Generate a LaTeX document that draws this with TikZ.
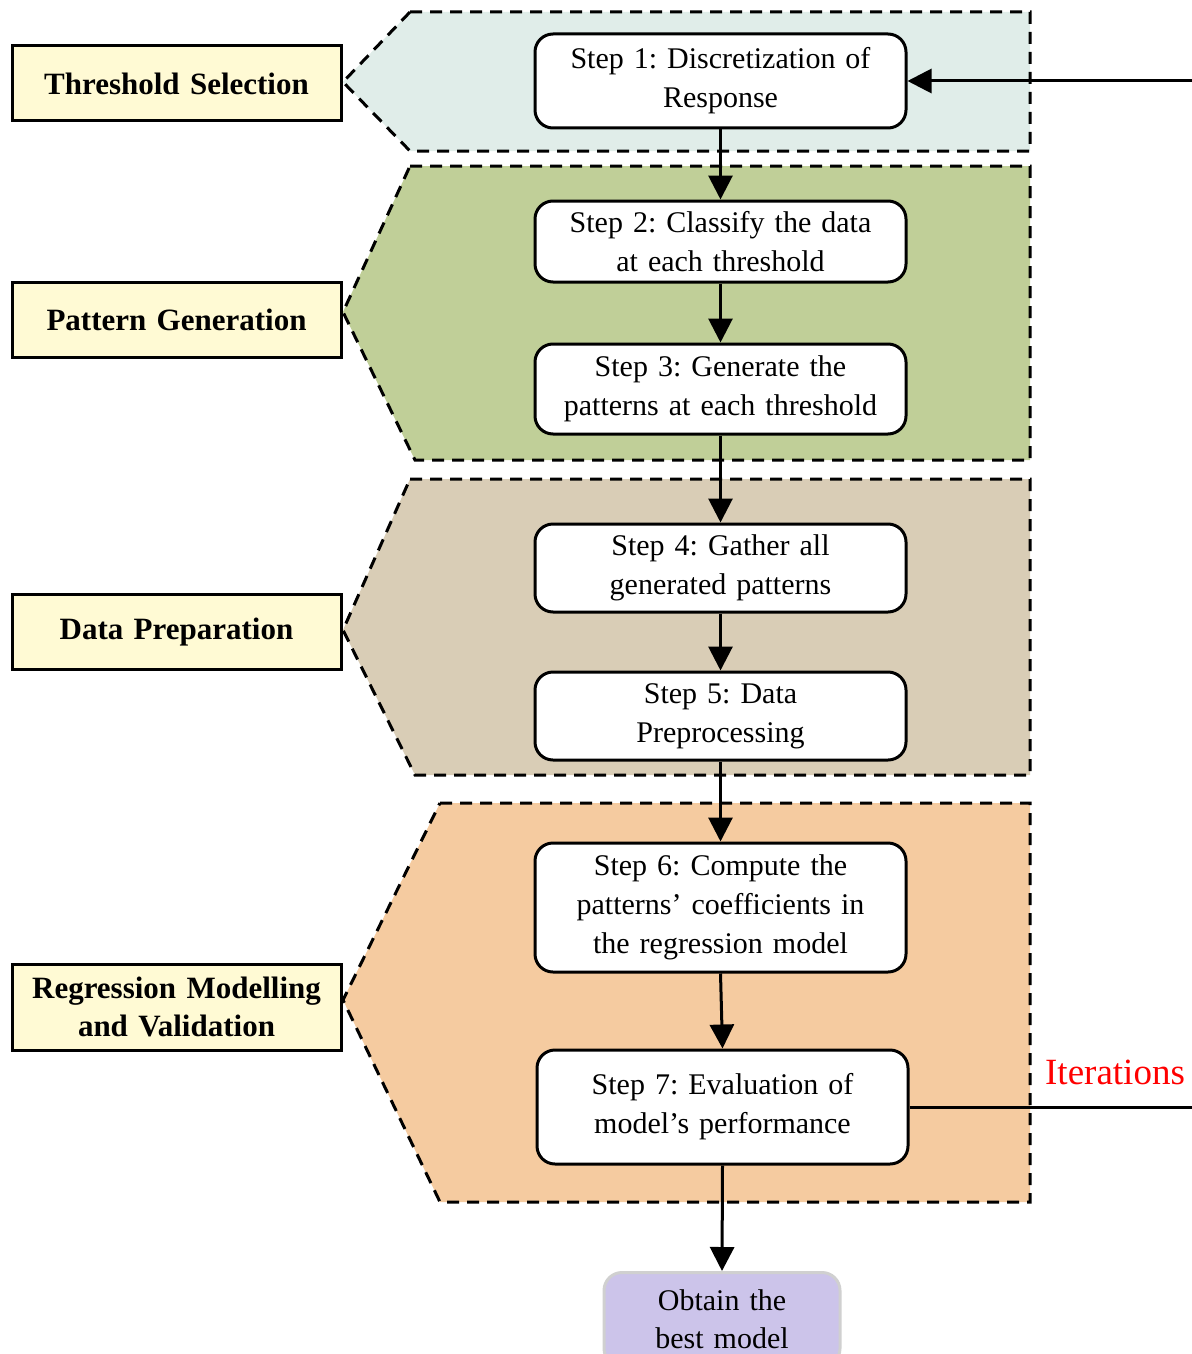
\documentclass[tikz,border=0pt]{standalone}
\usepackage{fontspec}
\setmainfont{Liberation Serif}
\usetikzlibrary{arrows.meta}
\frenchspacing
\definecolor{tealbg}{HTML}{E0EDE9}
\definecolor{greenbg}{HTML}{C0CF98}
\definecolor{tanbg}{HTML}{D9CDB6}
\definecolor{peachbg}{HTML}{F5CBA0}
\definecolor{labfill}{HTML}{FFFAD4}
\definecolor{lavfill}{HTML}{CCC4EA}
\definecolor{grayedge}{HTML}{D0D0D0}
\tikzset{
  region/.style={draw=black, line width=1.5pt, dash pattern=on 6pt off 4pt},
  stepbox/.style={draw=black, fill=white, line width=1.5pt, rounded corners=9pt,
    minimum width=185.5pt, text width=182pt, align=center, inner sep=1pt,
    font=\fontsize{15}{19.5}\selectfont},
  labbox/.style={draw=black, fill=labfill, line width=1.5pt,
    minimum width=164.5pt, text width=162pt, align=center, inner sep=1pt,
    font=\bfseries\fontsize{15.5}{19}\selectfont},
  arr/.style={line width=1.5pt, -{Triangle[length=12pt,width=12pt]}},
  plain/.style={line width=1.5pt}
}
\begin{document}
\begin{tikzpicture}[x=0.5pt,y=-0.5pt]
\useasboundingbox (0,0) rectangle (1192,1354);
% regions
\draw[region, fill=tealbg] (410,12) -- (1030,12) -- (1030,151) -- (410,151) -- (343,82) -- cycle;
\draw[region, fill=greenbg] (410,166) -- (1030,166) -- (1030,460) -- (415,460) -- (343,312) -- cycle;
\draw[region, fill=tanbg] (410,479) -- (1030,479) -- (1030,775) -- (415,775) -- (343,630) -- cycle;
\draw[region, fill=peachbg] (440,803) -- (1030,803) -- (1030,1202) -- (440,1202) -- (343,1000) -- cycle;
% labels
\node[labbox, minimum height=37.5pt] (l1) at (176.5,83.5) {Threshold Selection};
\node[labbox, minimum height=37.5pt] (l2) at (176.5,319.5) {Pattern Generation};
\node[labbox, minimum height=37.5pt] (l3) at (176.5,632) {Data Preparation};
\node[labbox, minimum height=43pt] (l4) at (176.5,1007) {Regression Modelling\\and Validation};
% steps
\node[stepbox, minimum height=47pt] (s1) at (720.5,81) {Step 1: Discretization of\\Response};
\node[stepbox, minimum height=40.5pt] (s2) at (720.5,241.5) {Step 2: Classify the data\\at each threshold};
\node[stepbox, minimum height=45pt] (s3) at (720.5,389) {Step 3: Generate the\\patterns at each threshold};
\node[stepbox, minimum height=44pt] (s4) at (720.5,568) {Step 4: Gather all\\generated patterns};
\node[stepbox, minimum height=44pt] (s5) at (720.5,716) {Step 5: Data\\Preprocessing};
\node[stepbox, minimum height=64.5pt] (s6) at (720.5,907.5) {Step 6: Compute the\\patterns’ coefficients in\\the regression model};
\node[stepbox, minimum height=57pt] (s7) at (722.5,1107) {Step 7: Evaluation of\\model’s performance};
\node[draw=grayedge, fill=lavfill, line width=1.5pt, rounded corners=9pt,
  minimum width=118pt, minimum height=47pt, text width=114pt, align=center, inner sep=1pt,
  font=\fontsize{15}{19}\selectfont, anchor=north] (fin) at (722,1271) {Obtain the\\best model\\[8pt]};
% arrows
\draw[arr] (s1) -- (s2);
\draw[arr] (s2) -- (s3);
\draw[arr] (s3) -- (s4);
\draw[arr] (s4) -- (s5);
\draw[arr] (s5) -- (s6);
\draw[arr] (s6.south) -- (s7.north);
\draw[arr] (s7.south) -- (fin.north);
% iterations loop
\coordinate (r7) at (1192,1107);
\coordinate (r1) at (1192,81);
\draw[plain] (s7.east) -- (r7);
\draw[arr] (r1) -- (s1.east);
\node[text=red, font=\fontsize{18.5}{22}\selectfont, inner sep=0pt] (it) at (1115,1072) {Iterations};
\end{tikzpicture}
\end{document}
